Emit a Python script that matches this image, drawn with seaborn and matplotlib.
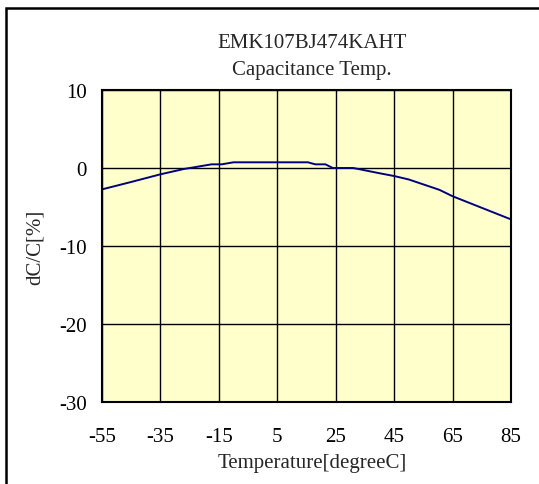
import matplotlib
matplotlib.use("Agg")
import matplotlib.pyplot as plt
import seaborn as sns
import pandas as pd
from matplotlib.patches import Rectangle

temps = [-55, -45, -35, -27, -17.5, -14, -10, 15.5, 18, 21.5, 24, 31,
         34.5, 39, 45, 50, 60.5, 65, 85]
dcc = [-2.74, -1.79, -0.81, -0.13, 0.47, 0.47, 0.73, 0.73, 0.47, 0.47, 0.0, 0.0,
       -0.26, -0.6, -1.03, -1.47, -2.8, -3.62, -6.59]
x_ticks = [-55, -35, -15, 5, 25, 45, 65, 85]
y_ticks = [-30, -20, -10, 0, 10]

df = pd.DataFrame({"Temp": temps, "dCC": dcc})

sns.set_style("white")
plt.rcParams['font.family'] = ['Liberation Serif', 'DejaVu Serif']
plt.rcParams['axes.unicode_minus'] = False

fig = plt.figure(figsize=(5.39, 4.85), dpi=100)
# outer chart frame (runs off the right and bottom edges)
fig.patches.append(Rectangle((6 / 539, -0.1), 1.2, (485 - 9) / 485 + 0.1,
                             transform=fig.transFigure, fill=False,
                             edgecolor='black', linewidth=1.8))
ax = fig.add_axes([102 / 539, 1 - 403 / 485, 409 / 539, 312 / 485])
ax.set_facecolor('#FFFFCC')

sns.lineplot(data=df, x="Temp", y="dCC", ax=ax, color='#000080', linewidth=1.4)

ax.set_xlim(-55, 85)
ax.set_ylim(-30, 10)
ax.set_xticks(x_ticks)
ax.set_yticks(y_ticks)
ax.grid(True, color='black', linewidth=1.0)
ax.set_axisbelow(True)
for s in ax.spines.values():
    s.set_visible(True)
    s.set_color('black')
    s.set_linewidth(1.5)
ax.tick_params(length=0, labelsize=15, colors='black')
ax.tick_params(axis='x', pad=18)
ax.tick_params(axis='y', pad=11)
ax.set_xlabel("Temperature[degreeC]", fontsize=15)
ax.xaxis.set_label_coords(0.513, -0.165, transform=ax.transAxes)
ax.xaxis.label.set_va('top')
ax.set_ylabel("dC/C[%]", fontsize=15, labelpad=10)
ax.set_title("EMK107BJ474KAHT\nCapacitance Temp.", fontsize=15, pad=11.5,
             linespacing=1.6, x=0.513)

fig.savefig("out.png", dpi=100)
